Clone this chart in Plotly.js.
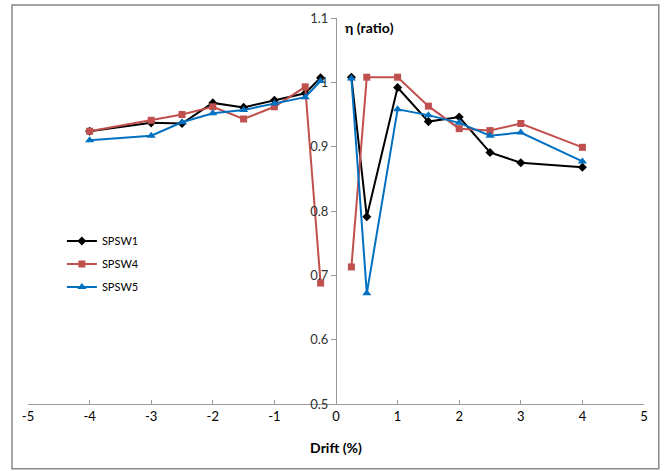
<!DOCTYPE html>
<html><head><meta charset="utf-8">
<script src="https://cdn.plot.ly/plotly-3.0.1.min.js"></script>
<style>html,body{margin:0;padding:0;background:#fff;}#chart{width:664px;height:471px;}</style>
</head><body><div id="chart"></div>
<script>
var drift = [-4, -3, -2.5, -2, -1.5, -1, -0.5, -0.25, 0, 0.25, 0.5, 1, 1.5, 2, 2.5, 3, 4];
var spsw1 = [0.924, 0.937, 0.936, 0.968, 0.961, 0.972, 0.983, 1.007, null, 1.008, 0.791, 0.992, 0.939, 0.946, 0.891, 0.875, 0.868];
var spsw4 = [0.924, 0.941, 0.950, 0.962, 0.943, 0.962, 0.993, 0.688, null, 0.713, 1.008, 1.008, 0.963, 0.928, 0.925, 0.936, 0.899];
var spsw5 = [0.910, 0.917, 0.938, 0.952, 0.957, 0.967, 0.977, 1.002, null, 1.006, 0.672, 0.958, 0.949, 0.937, 0.917, 0.922, 0.877];
var xTicks = [-5, -4, -3, -2, -1, 0, 1, 2, 3, 4, 5];
var yTicks = [0.5, 0.6, 0.7, 0.8, 0.9, 1, 1.1];
var yTickText = ['0.5', '0.6', '0.7', '0.8', '0.9', '1', '1.1'];

var font = 'Lato, "Open Sans", "Liberation Sans", sans-serif';
function tr(name, y, color, sym, size) {
  return {x: drift, y: y, name: name, legendgroup: name, type: 'scatter', mode: 'lines+markers',
    connectgaps: false, line: {color: color, width: 2},
    marker: {color: color, symbol: sym, size: size}};
}
var data = [
  tr('SPSW1', spsw1, '#000000', 'diamond', 7),
  tr('SPSW4', spsw4, '#C0504D', 'square', 7),
  tr('SPSW5', spsw5, '#0070C0', 'triangle-up', 8)
];
var layout = {
  width: 664, height: 471,
  margin: {l: 28, r: 20, t: 18, b: 67},
  paper_bgcolor: '#fff', plot_bgcolor: '#fff',
  font: {family: font, size: 13, color: '#333'},
  showlegend: true,
  legend: {x: 0.055, y: 0.46, xanchor: 'left', yanchor: 'top', font: {size: 11, color: '#000'},
    bgcolor: 'rgba(0,0,0,0)', tracegroupgap: 4},
  xaxis: {range: [-5, 5], tickvals: xTicks, ticktext: xTicks.map(String), showgrid: false, zeroline: false,
    showline: true, linecolor: '#999', linewidth: 1, ticks: 'inside', ticklen: 4, tickcolor: '#999',
    tickfont: {size: 13, color: '#000'},
    title: {text: '<b>Drift (%)</b>', font: {size: 14, color: '#000'}, standoff: 20}},
  yaxis: {range: [0.5, 1.1], tickvals: yTicks, ticktext: yTickText, showgrid: false, zeroline: false,
    anchor: 'free', position: 0.5, showline: true, linecolor: '#999', linewidth: 1,
    ticks: 'outside', ticklen: 5, tickcolor: '#999', tickfont: {size: 13, color: '#333'}},
  annotations: [{xref: 'paper', yref: 'paper', x: 0.512, y: 0.975, xanchor: 'left', yanchor: 'middle',
    text: '<b>η (ratio)</b>', showarrow: false, font: {size: 14, color: '#000'}}],
  shapes: [{type: 'rect', xref: 'paper', yref: 'paper', x0: -0.026, x1: 1.024, y0: -0.168, y1: 1.034,
    line: {color: '#888', width: 1.5}, fillcolor: 'rgba(0,0,0,0)'}]
};
Plotly.newPlot('chart', data, layout, {staticPlot: true});
</script></body></html>
